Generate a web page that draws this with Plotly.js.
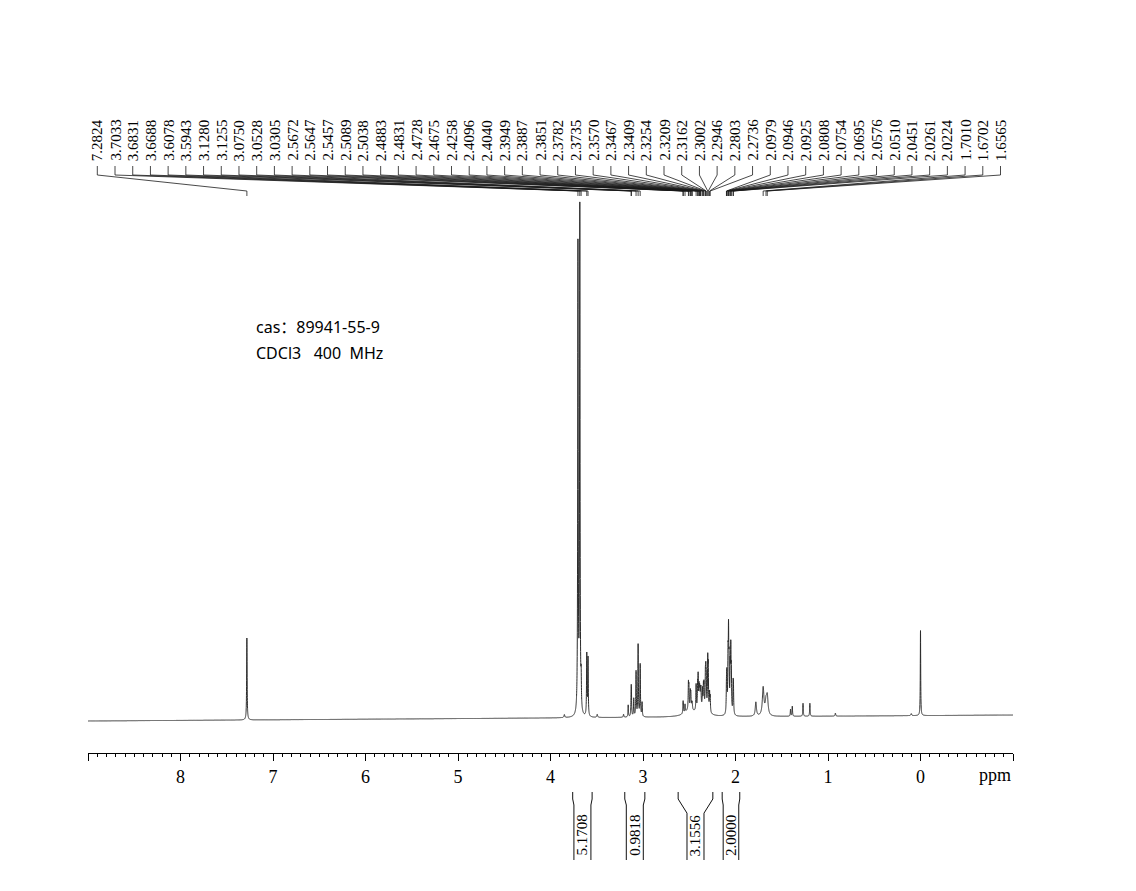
<!DOCTYPE html>
<html><head><meta charset="utf-8">
<script src="https://cdn.plot.ly/plotly-3.0.1.min.js"></script>
<style>html,body{margin:0;padding:0;background:#fff;} #chart{width:1136px;height:891px;}</style>
</head><body><div id="chart"></div>
<script>
// ---- Data ----
// Labelled peaks (ppm) and their approximate intensities (arbitrary units)
const labelPpm = [7.2824, 3.7033, 3.6831, 3.6688, 3.6078, 3.5943, 3.1280, 3.1255, 3.0750, 3.0528, 3.0305,
  2.5672, 2.5647, 2.5457, 2.5089, 2.5038, 2.4883, 2.4831, 2.4728, 2.4675, 2.4258,
  2.4096, 2.4040, 2.3949, 2.3887, 2.3851, 2.3782, 2.3735, 2.3570, 2.3467, 2.3409,
  2.3254, 2.3209, 2.3162, 2.3002, 2.2946, 2.2803, 2.2736,
  2.0979, 2.0946, 2.0925, 2.0808, 2.0754, 2.0695, 2.0576, 2.0510, 2.0451, 2.0261, 2.0224,
  1.7010, 1.6702, 1.6565];
const labelHeight = [82, 470, 505, 28, 62, 58, 20, 18, 45, 72, 52,
  8, 7, 8, 24, 20, 16, 14, 6, 6, 26,
  22, 30, 20, 14, 12, 14, 16, 18, 20, 22,
  30, 30, 28, 48, 40, 18, 15,
  20, 22, 18, 50, 72, 45, 42, 58, 38, 25, 24,
  28, 12, 18];
const labelWidth = [0.006, 0.006, 0.006, 0.006, 0.006, 0.006, 0.006, 0.006, 0.006, 0.006, 0.006,
  0.006, 0.006, 0.006, 0.006, 0.006, 0.006, 0.006, 0.006, 0.006, 0.006,
  0.006, 0.006, 0.006, 0.006, 0.006, 0.006, 0.006, 0.006, 0.006, 0.006,
  0.006, 0.006, 0.006, 0.006, 0.006, 0.006, 0.006,
  0.006, 0.006, 0.006, 0.006, 0.006, 0.006, 0.006, 0.006, 0.006, 0.006, 0.006,
  0.02, 0.02, 0.02];
// Unlabelled signals (ppm, intensity, line width in ppm)
const extraPpm    = [3.85, 3.495, 3.21, 3.16, 3.10, 3.01, 2.50, 2.36, 1.78, 1.405, 1.386, 1.27, 1.196, 0.92, 0.10, 0.00];
const extraHeight = [3, 3, 3, 12, 18, 14, 6, 7, 14, 7, 10, 13, 13, 3, 2, 85];
const extraWidth  = [0.01, 0.01, 0.008, 0.006, 0.006, 0.006, 0.12, 0.12, 0.015, 0.006, 0.006, 0.006, 0.006, 0.008, 0.01, 0.005];
// Baseline drift (intensity at 9 ppm and at -1 ppm)
const baselineStart = -3, baselineEnd = 3;
// Integrals
const integralFrom  = [3.76, 3.197, 2.62, 2.144];
const integralTo    = [3.55, 2.98, 2.245, 1.954];
const integralValue = ['5.1708', '0.9818', '3.1556', '2.0000'];
// Axis ticks
const tickValues = [9, 8, 7, 6, 5, 4, 3, 2, 1, 0, -1];
const tickLabels = ['', '8', '7', '6', '5', '4', '3', '2', '1', '0', ''];
const sampleInfo = ['cas\uff1a89941-55-9', 'CDCl3\u00a0\u00a0\u00a0400\u00a0\u00a0MHz'];

// ---- Layout geometry ----
const W = 1136, H = 891;
const axL = 88, axR = 1013, ppmL = 9, ppmR = -1;
const pxPerPpm = (axR - axL) / (ppmL - ppmR);
const basePx = 718, axisPx = 753, topPx = 100;
const dPpm = px => px / pxPerPpm;               // pixel length -> ppm length
const yAt = px => basePx - px;                   // pixel row -> intensity
const py = px => 1 - px / H;                     // pixel row -> paper
const serif = 'Liberation Serif, Times New Roman, serif';

// ---- Spectrum (sum of Lorentzian lines from the peak list) ----
const allPpm = labelPpm.concat(extraPpm);
const allH = labelHeight.concat(extraHeight);
const allW = labelWidth.concat(extraWidth);
const xs = [], ys = [];
const step = 0.0005;
for (let k = 0; k <= (ppmL - ppmR) / step; k++) {
  const x = ppmL - k * step;
  let y = baselineStart + (baselineEnd - baselineStart) * (ppmL - x) / (ppmL - ppmR);
  for (let j = 0; j < allPpm.length; j++) {
    const t = 2 * (x - allPpm[j]) / allW[j];
    y += allH[j] / (1 + t * t);
  }
  xs.push(x); ys.push(y);
}

// ---- Peak label fan ----
const lblFirst = ppmL - dPpm(97.3 - axL), lblLast = ppmL - dPpm(1000.5 - axL);
const nL = labelPpm.length;
const fanX = [], fanY = [];
const annotations = [];
labelPpm.forEach((p, i) => {
  const lx = lblFirst + (lblLast - lblFirst) * i / (nL - 1);
  fanX.push(lx, lx, p, p, null);
  fanY.push(yAt(166), yAt(175), yAt(191), yAt(196), null);
  annotations.push({x: lx, y: yAt(163), xref: 'x', yref: 'y', text: p.toFixed(4), showarrow: false,
    textangle: -90, xanchor: 'center', yanchor: 'bottom', font: {family: serif, size: 15, color: '#000'}});
});

// ---- Integrals ----
const shapes = [];
integralFrom.forEach((a, i) => {
  const b = integralTo[i];
  const mid = (a + b) / 2;
  const outerPx = (a - b) * pxPerPpm;
  const innerPx = Math.min(outerPx - 2, 17);
  const off = (outerPx - innerPx) / 2;
  const k1 = 799, k2 = 799 + Math.max(6, off * 1.6);
  const ai = mid + dPpm(innerPx / 2), bi = mid - dPpm(innerPx / 2);
  shapes.push({type: 'path', xref: 'x', yref: 'paper', line: {color: '#111', width: 1},
    path: `M ${a},${py(792)} L ${a},${py(k1)} L ${ai},${py(k2)} L ${ai},${py(860)} M ${b},${py(792)} L ${b},${py(k1)} L ${bi},${py(k2)} L ${bi},${py(860)}`});
  annotations.push({x: mid, y: py(835), xref: 'x', yref: 'paper', text: integralValue[i], showarrow: false,
    textangle: -90, xanchor: 'center', yanchor: 'middle', font: {family: serif, size: 15, color: '#000'}});
});

annotations.push({x: ppmR, y: py(775), xref: 'x', yref: 'paper', text: 'ppm', showarrow: false,
  xanchor: 'right', yanchor: 'middle', font: {family: serif, size: 18, color: '#000'}});
sampleInfo.forEach((t, i) => {
  annotations.push({x: 254 / W, y: py(327 + 26 * i), xref: 'paper', yref: 'paper', text: t, showarrow: false,
    xanchor: 'left', yanchor: 'middle', font: {family: 'Noto Sans, Noto Sans CJK SC, sans-serif', size: 16, color: '#000'}});
});

const traces = [
  {x: xs, y: ys, type: 'scatter', mode: 'lines', line: {color: '#2b2b2b', width: 1, simplify: false}, hoverinfo: 'skip'},
  {x: fanX, y: fanY, type: 'scatter', mode: 'lines', line: {color: '#1a1a1a', width: 0.8}, hoverinfo: 'skip', connectgaps: false}
];

const layout = {
  width: W, height: H, margin: {l: 0, r: 0, t: 0, b: 0},
  paper_bgcolor: '#fff', plot_bgcolor: '#fff', showlegend: false,
  xaxis: {domain: [axL / W, axR / W], range: [ppmL, ppmR], showgrid: false, zeroline: false,
    showline: true, linecolor: '#000', linewidth: 1, ticks: 'outside', ticklen: 7, tickwidth: 1, tickcolor: '#000',
    tickmode: 'array', tickvals: tickValues, ticktext: tickLabels,
    tickfont: {family: serif, size: 18, color: '#000'},
    minor: {tickmode: 'linear', tick0: 0, dtick: 0.1, ticks: 'outside', ticklen: 3, tickwidth: 1, tickcolor: '#000', showgrid: false},
    anchor: 'y', fixedrange: true},
  yaxis: {domain: [py(axisPx), py(topPx)], range: [yAt(axisPx), yAt(topPx)], visible: false, fixedrange: true},
  shapes: shapes, annotations: annotations
};
Plotly.newPlot('chart', traces, layout, {staticPlot: true});
</script></body></html>
